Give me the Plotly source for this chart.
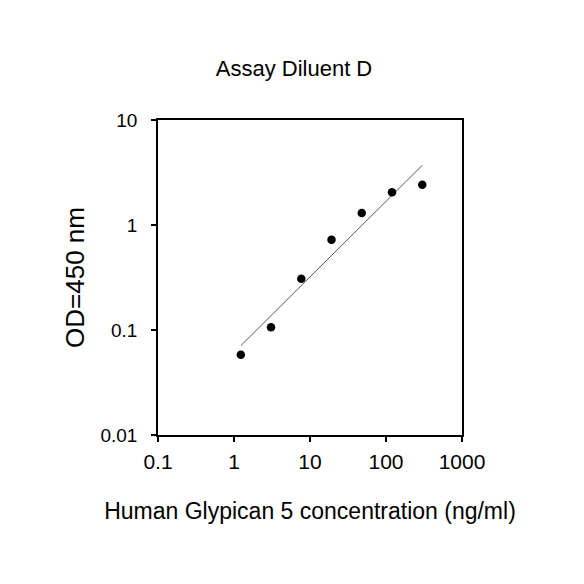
import plotly.graph_objects as go

# Data (log-log standard curve)
concentration = [1.23, 3.07, 7.68, 19.2, 48.0, 120.0, 300.0]
od450 = [0.058, 0.106, 0.308, 0.724, 1.30, 2.05, 2.42]

# Fitted line endpoints
fit_x = [1.23, 300.0]
fit_y = [0.071, 3.70]

x_tickvals = [0.1, 1, 10, 100, 1000]
x_ticktext = ["0.1", "1", "10", "100", "1000"]
y_tickvals = [0.01, 0.1, 1, 10]
y_ticktext = ["0.01", "0.1", "1", "10"]

FONT = "Liberation Sans, Arial, sans-serif"

fig = go.Figure()
fig.add_trace(go.Scatter(
    x=fit_x, y=fit_y, mode="lines",
    line=dict(color="#555555", width=1),
    showlegend=False, hoverinfo="skip",
))
fig.add_trace(go.Scatter(
    x=concentration, y=od450, mode="markers",
    marker=dict(color="black", size=8.5),
    showlegend=False,
))

fig.update_layout(
    width=584, height=584,
    margin=dict(l=150, r=130, t=112, b=157),
    paper_bgcolor="white", plot_bgcolor="white",
    font=dict(family=FONT, color="black"),
    title=dict(
        text="Assay Diluent D", font=dict(size=22, family=FONT, color="black"),
        x=286 / 584, xref="container", xanchor="center",
        y=1 - 60 / 584, yref="container", yanchor="middle",
    ),
)

fig.update_xaxes(
    type="log", range=[-1, 3],
    tickvals=x_tickvals, ticktext=x_ticktext,
    ticks="outside", ticklen=5, tickwidth=1.5, tickcolor="black",
    tickfont=dict(size=21, family=FONT, color="black"),
    ticklabelstandoff=2,
    showline=True, linecolor="black", linewidth=1.5, mirror=True,
    showgrid=False, zeroline=False,
    title=dict(text="Human Glypican 5 concentration (ng/ml)",
               font=dict(size=23, family=FONT, color="black"), standoff=31),
)
fig.update_yaxes(
    type="log", range=[-2, 1],
    tickvals=y_tickvals, ticktext=y_ticktext,
    ticks="outside", ticklen=5, tickwidth=1.5, tickcolor="black",
    tickfont=dict(size=19, family=FONT, color="black"),
    ticklabelstandoff=10,
    showline=True, linecolor="black", linewidth=1.5, mirror=True,
    showgrid=False, zeroline=False,
    title=dict(text="OD=450 nm",
               font=dict(size=26, family=FONT, color="black"), standoff=8),
)

fig.write_html("out.html")
